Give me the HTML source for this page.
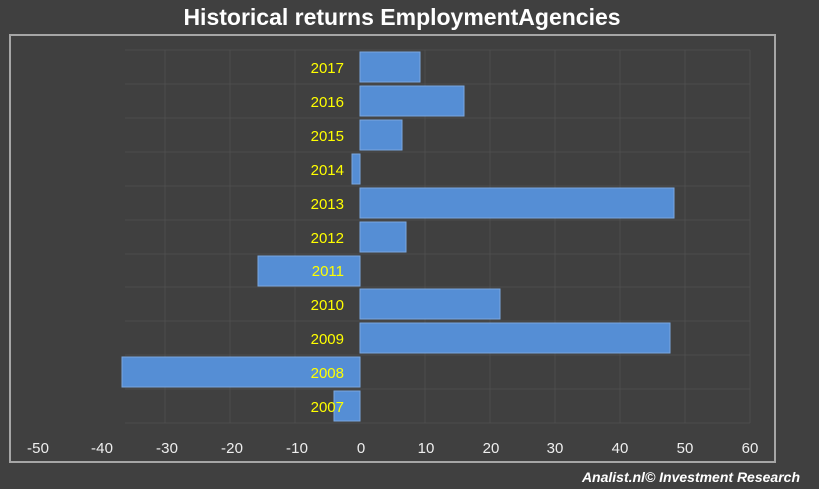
<!DOCTYPE html>
<html><head><style>body{margin:0;background:#404040;}</style></head><body>
<svg width="819" height="489" xmlns="http://www.w3.org/2000/svg" style="display:block">
<rect width="819" height="489" fill="#404040"/>
<text x="402" y="25" text-anchor="middle" font-family="Liberation Sans, sans-serif" font-weight="bold" font-size="23" fill="#fff">Historical returns EmploymentAgencies</text>
<rect x="10" y="35" width="765" height="427" fill="none" stroke="#a6a6a6" stroke-width="2"/>
<g stroke="#4d4d4d" stroke-width="1">
<line x1="165" y1="50" x2="165" y2="423"/><line x1="230" y1="50" x2="230" y2="423"/><line x1="295" y1="50" x2="295" y2="423"/>
<line x1="425" y1="50" x2="425" y2="423"/><line x1="490" y1="50" x2="490" y2="423"/><line x1="555" y1="50" x2="555" y2="423"/><line x1="620" y1="50" x2="620" y2="423"/><line x1="685" y1="50" x2="685" y2="423"/><line x1="750" y1="50" x2="750" y2="423"/>
<line x1="125" y1="50" x2="750" y2="50"/><line x1="125" y1="84" x2="750" y2="84"/><line x1="125" y1="118" x2="750" y2="118"/><line x1="125" y1="152" x2="750" y2="152"/><line x1="125" y1="186" x2="750" y2="186"/><line x1="125" y1="220" x2="750" y2="220"/><line x1="125" y1="254" x2="750" y2="254"/><line x1="125" y1="287" x2="750" y2="287"/><line x1="125" y1="321" x2="750" y2="321"/><line x1="125" y1="355" x2="750" y2="355"/><line x1="125" y1="389" x2="750" y2="389"/><line x1="125" y1="423" x2="750" y2="423"/>
</g>
<g fill="#558ed5" stroke="#7aa7e0" stroke-width="1">
<rect x="360" y="52" width="60" height="30"/>
<rect x="360" y="86" width="104" height="30"/>
<rect x="360" y="120" width="42" height="30"/>
<rect x="352" y="154" width="8" height="30"/>
<rect x="360" y="188" width="314" height="30"/>
<rect x="360" y="222" width="46" height="30"/>
<rect x="258" y="256" width="102" height="30"/>
<rect x="360" y="289" width="140" height="30"/>
<rect x="360" y="323" width="310" height="30"/>
<rect x="122" y="357" width="238" height="30"/>
<rect x="334" y="391" width="26" height="30"/>
</g>
<g font-family="Liberation Sans, sans-serif" font-size="15" fill="#ffff00" text-anchor="end">
<text x="344" y="73">2017</text><text x="344" y="107">2016</text><text x="344" y="141">2015</text><text x="344" y="175">2014</text><text x="344" y="209">2013</text><text x="344" y="243">2012</text><text x="344" y="276">2011</text><text x="344" y="310">2010</text><text x="344" y="344">2009</text><text x="344" y="378">2008</text><text x="344" y="412">2007</text>
</g>
<g font-family="Liberation Sans, sans-serif" font-size="15" fill="#eee" text-anchor="middle" transform="translate(0,0)">
<text x="38" y="453" textLength="22">-50</text><text x="102" y="453" textLength="22">-40</text><text x="167" y="453" textLength="22">-30</text><text x="232" y="453" textLength="22">-20</text><text x="297" y="453" textLength="22">-10</text><text x="361" y="453">0</text><text x="426" y="453">10</text><text x="491" y="453">20</text><text x="555" y="453">30</text><text x="620" y="453">40</text><text x="685" y="453">50</text><text x="750" y="453">60</text>
</g>
<text x="800" y="482" text-anchor="end" font-family="Liberation Sans, sans-serif" font-style="italic" font-weight="bold" font-size="14" fill="#fff">Analist.nl© Investment Research</text>
</svg>
</body></html>
